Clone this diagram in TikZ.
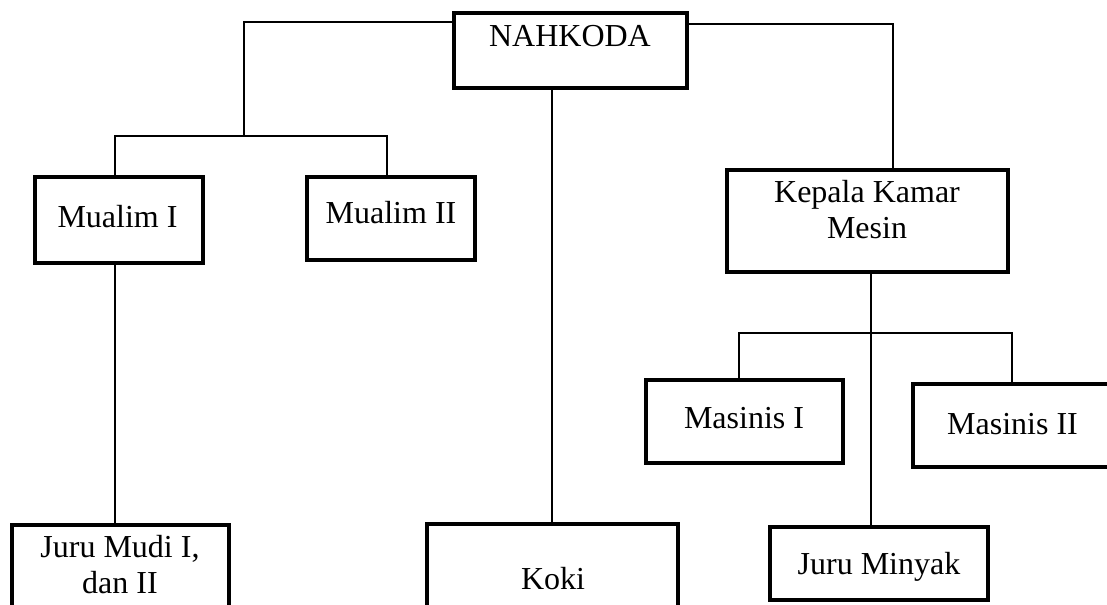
\documentclass[tikz,border=0pt]{standalone}
\usepackage{fontspec}
\setmainfont{Liberation Serif}
\begin{document}
\begin{tikzpicture}[x=0.75pt,y=-0.75pt,
  boxst/.style={draw, line width=2.4pt, rectangle, anchor=north west, inner sep=0pt, outer sep=0pt},
  txt/.style={anchor=base, inner sep=0pt, font=\fontsize{24}{26.5}\selectfont, align=center},
  conn/.style={line width=1.9pt},
  thin/.style={line width=1.1pt}]
\useasboundingbox (0,0) rectangle (1107,604);
% boxes
\node[boxst, minimum width=174.75pt, minimum height=56.25pt] (nah) at (454,13) {};
\node[boxst, minimum width=126pt, minimum height=64.5pt] (m1) at (35,177) {};
\node[boxst, minimum width=126pt, minimum height=62.25pt] (m2) at (307,177) {};
\node[boxst, minimum width=210.75pt, minimum height=76.5pt] (kkm) at (727,170) {};
\node[boxst, minimum width=147.75pt, minimum height=62.25pt] (ms1) at (646,380) {};
\node[boxst, minimum width=148.5pt, minimum height=62.25pt] (ms2) at (913,384) {};
\node[boxst, minimum width=162.75pt, minimum height=86.25pt] (jmd) at (12,525) {};
\node[boxst, minimum width=188.25pt, minimum height=87pt] (koki) at (427,524) {};
\node[boxst, minimum width=163.5pt, minimum height=54.75pt] (jmy) at (770,527) {};
% texts
\node[txt] (tnah) at (570,46) {NAHKODA};
\node[txt] (tm1) at (117.5,227) {Mualim I};
\node[txt] (tm2) at (391,223) {Mualim II};
\node[txt] (tkkm) at (867,238) {Kepala Kamar\\Mesin};
\node[txt] (tms1) at (744,428) {Masinis I};
\node[txt] (tms2) at (1012.5,434) {Masinis II};
\node[txt] (tjmd) at (120,593) {Juru Mudi I,\\dan II};
\node[txt] (tkoki) at (553,589) {Koki};
\node[txt] (tjmy) at (879,574) {Juru Minyak};
% junctions
\coordinate (jl) at (244,136);
\coordinate (jr) at (871,333);
% connectors
\draw[conn] (nah.north west) ++(0,9) -| (jl);
\draw[conn] (m1.north -| 115,0) |- (jl) -- (387,136) -- (m2.north -| 387,0);
\draw[conn] (nah.north east) ++(0,11) -| (kkm.north -| 893,0);
\draw[thin] (nah.south -| 552,0) -- (koki.north -| 552,0);
\draw[conn] (m1.south -| 115,0) -- (jmd.north -| 115,0);
\draw[conn] (kkm.south -| 871,0) -- (jmy.north -| 871,0);
\draw[conn] (ms1.north -| 739,0) |- (jr) -| (ms2.north -| 1012,0);
\end{tikzpicture}
\end{document}
